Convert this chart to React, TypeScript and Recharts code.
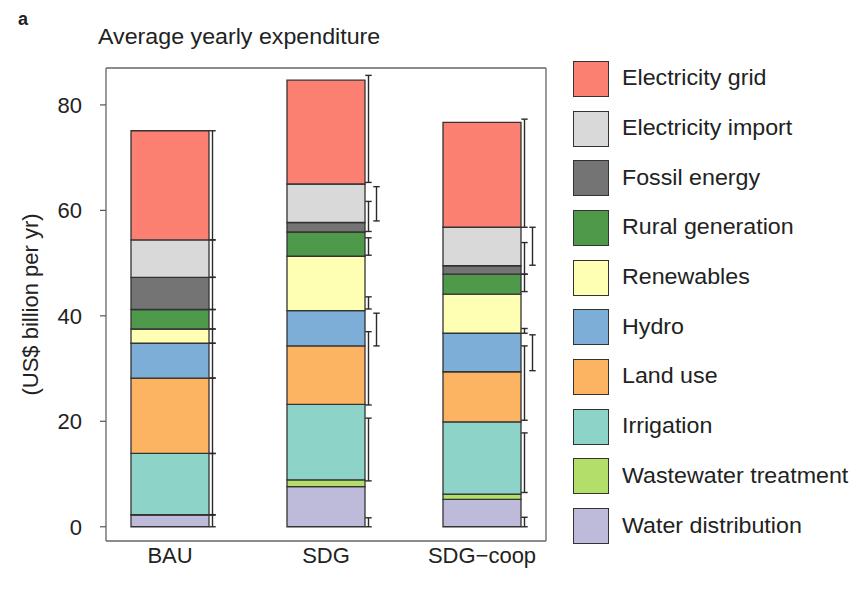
import React from 'react';
import { BarChart, Bar, XAxis, YAxis, Legend, Label, Rectangle } from 'recharts';

const SCENARIOS = ['BAU', 'SDG', 'SDG\u2212coop'];

// segment sizes in US$ billion per yr, bottom of the stack first
const WATER_DISTRIBUTION = [2.2, 7.6, 5.2];
const WASTEWATER = [0.1, 1.3, 1.0];
const IRRIGATION = [11.6, 14.3, 13.7];
const LAND_USE = [14.3, 11.1, 9.5];
const HYDRO = [6.6, 6.7, 7.3];
const RENEWABLES = [2.7, 10.3, 7.4];
const RURAL_GENERATION = [3.7, 4.6, 3.8];
const FOSSIL_ENERGY = [6.1, 1.8, 1.6];
const ELECTRICITY_IMPORT = [7.1, 7.3, 7.3];
const ELECTRICITY_GRID = [20.7, 19.7, 19.9];

// uncertainty ranges [low, high, column] for each scenario
const ERR_WATER_DISTRIBUTION = [[0, 2.2, 0], [0, 1.7, 0], [0, 1.8, 0]];
const ERR_WASTEWATER = [null, null, null];
const ERR_IRRIGATION = [[2.3, 13.9, 0], [8.7, 20.6, 0], [6.5, 17.8, 0]];
const ERR_LAND_USE = [[13.9, 28.2, 0], [23.1, 37.0, 0], [20.2, 34.3, 0]];
const ERR_HYDRO = [[28.2, 34.8, 0], [34.3, 40.5, 1], [29.6, 36.4, 1]];
const ERR_RENEWABLES = [[34.8, 37.5, 0], [41.3, 43.6, 0], [36.7, 37.6, 0]];
const ERR_RURAL_GENERATION = [[37.5, 41.2, 0], [51.5, 54.8, 0], [44.6, 47.9, 0]];
const ERR_FOSSIL_ENERGY = [[41.2, 47.3, 0], [56.0, 61.7, 0], [47.9, 53.9, 0]];
const ERR_ELECTRICITY_IMPORT = [[47.3, 54.4, 0], [58.0, 64.5, 1], [49.6, 56.8, 1]];
const ERR_ELECTRICITY_GRID = [[54.4, 75.1, 0], [65.3, 85.6, 0], [56.8, 77.3, 0]];

const Y_TICKS = [0, 20, 40, 60, 80];
const Y_MIN = -2.7;
const Y_MAX = 87;

const FONT = '"Liberation Sans", Arial, Helvetica, sans-serif';
const INK = '#222';
const FRAME = { stroke: '#666', strokeWidth: 1.3 };

const SERIES = [
    { key: 'water', name: 'Water distribution', color: '#bebada', values: WATER_DISTRIBUTION, err: ERR_WATER_DISTRIBUTION },
    { key: 'wastewater', name: 'Wastewater treatment', color: '#b3de69', values: WASTEWATER, err: ERR_WASTEWATER },
    { key: 'irrigation', name: 'Irrigation', color: '#8dd3c7', values: IRRIGATION, err: ERR_IRRIGATION },
    { key: 'land', name: 'Land use', color: '#fdb462', values: LAND_USE, err: ERR_LAND_USE },
    { key: 'hydro', name: 'Hydro', color: '#7daed8', values: HYDRO, err: ERR_HYDRO },
    { key: 'renewables', name: 'Renewables', color: '#ffffb3', values: RENEWABLES, err: ERR_RENEWABLES },
    { key: 'rural', name: 'Rural generation', color: '#4e9a4a', values: RURAL_GENERATION, err: ERR_RURAL_GENERATION },
    { key: 'fossil', name: 'Fossil energy', color: '#747474', values: FOSSIL_ENERGY, err: ERR_FOSSIL_ENERGY },
    { key: 'import', name: 'Electricity import', color: '#d9d9d9', values: ELECTRICITY_IMPORT, err: ERR_ELECTRICITY_IMPORT },
    { key: 'grid', name: 'Electricity grid', color: '#fb8072', values: ELECTRICITY_GRID, err: ERR_ELECTRICITY_GRID },
];

const data = SCENARIOS.map((name, i) => {
    const row: Record<string, string | number> = { name };
    SERIES.forEach((s) => {
        row[s.key] = s.values[i];
    });
    return row;
});

// bar segment plus its whisker, placed just right of the bar
const Segment = (props: any) => {
    const { x, y, width, height, fill, index, seriesIndex } = props;
    const s = SERIES[seriesIndex];
    const own = s.values[index];
    const e = s.err[index];
    let top = 0;
    for (let k = 0; k <= seriesIndex; k++) top += SERIES[k].values[index];

    let whisker = null;
    if (e && own > 0.5 && height > 0) {
        const ppu = height / own;
        const yHi = y + (top - e[1]) * ppu;
        const yLo = y + (top - e[0]) * ppu;
        const cx = x + width + 3.5 + e[2] * 8;
        whisker = (
            <g stroke="#2a2a2a" strokeWidth={1.4}>
                <line x1={cx} x2={cx} y1={yHi} y2={yLo} />
                <line x1={cx - 3.2} x2={cx + 3.2} y1={yHi} y2={yHi} />
                <line x1={cx - 3.2} x2={cx + 3.2} y1={yLo} y2={yLo} />
            </g>
        );
    }

    return (
        <g>
            <Rectangle x={x} y={y} width={width} height={height} fill={fill} stroke="#333" strokeWidth={1.3} />
            {whisker}
        </g>
    );
};

const wide: React.CSSProperties = {
    display: 'inline-block',
    transform: 'scaleX(1.08)',
    transformOrigin: 'left center',
    whiteSpace: 'nowrap',
};

const LegendList = () => (
    <div style={{ display: 'flex', flexDirection: 'column', fontFamily: FONT }}>
        {[...SERIES].reverse().map((s) => (
            <div key={s.key} style={{ height: 49.7, display: 'flex', alignItems: 'center' }}>
                <div
                    style={{
                        width: 34,
                        height: 34,
                        background: s.color,
                        border: '1.5px solid #333',
                    }}
                />
                <span style={{ ...wide, marginLeft: 13, fontSize: 21.5, color: INK }}>{s.name}</span>
            </div>
        ))}
    </div>
);

const App = () => {
    return (
        <div style={{ position: 'relative', width: 843, height: 583, fontFamily: FONT }}>
            <div style={{ position: 'absolute', left: 10, top: 1, fontSize: 18, fontWeight: 700, color: INK }}>a</div>
            <div style={{ position: 'absolute', left: 90, top: 19, fontSize: 21.5, lineHeight: '21px', color: INK }}>
                <span style={wide}>Average yearly expenditure</span>
            </div>
            <BarChart
                width={843}
                height={583}
                data={data}
                margin={{ top: 59, right: 304, bottom: 20, left: 0 }}
                style={{ fontFamily: FONT }}
            >
                <XAxis
                    dataKey="name"
                    axisLine={FRAME}
                    tickLine={false}
                    tickSize={0}
                    tickMargin={6}
                    height={30}
                    padding={{ left: -14, right: -14 }}
                    tick={{ fill: INK, fontSize: 22 }}
                    interval={0}
                />
                {/* top edge of the box */}
                <XAxis
                    xAxisId="top"
                    orientation="top"
                    dataKey="name"
                    height={1}
                    tick={false}
                    tickLine={false}
                    axisLine={FRAME}
                />
                <YAxis
                    type="number"
                    domain={[Y_MIN, Y_MAX]}
                    ticks={Y_TICKS}
                    width={98}
                    axisLine={FRAME}
                    tickSize={6}
                    tickMargin={18}
                    tickLine={{ stroke: '#555', strokeWidth: 1.2 }}
                    tick={{ fill: INK, fontSize: 22 }}
                >
                    <Label
                        value="(US$ billion per yr)"
                        angle={-90}
                        position="insideLeft"
                        offset={22}
                        style={{ textAnchor: 'middle', fill: INK, fontSize: 22 }}
                    />
                </YAxis>
                {/* right edge of the box */}
                <YAxis
                    yAxisId="right"
                    orientation="right"
                    type="number"
                    domain={[Y_MIN, Y_MAX]}
                    width={1}
                    tick={false}
                    tickLine={false}
                    axisLine={FRAME}
                />
                {SERIES.map((s, si) => (
                    <Bar
                        key={s.key}
                        dataKey={s.key}
                        name={s.name}
                        stackId="total"
                        fill={s.color}
                        barSize={78}
                        isAnimationActive={false}
                        shape={(p: any) => <Segment {...p} seriesIndex={si} />}
                    />
                ))}
                <Legend
                    layout="vertical"
                    align="center"
                    verticalAlign="middle"
                    wrapperStyle={{ position: 'absolute', left: 565, top: 46, width: 290 }}
                    content={() => <LegendList />}
                />
            </BarChart>
        </div>
    );
};

export default App;
